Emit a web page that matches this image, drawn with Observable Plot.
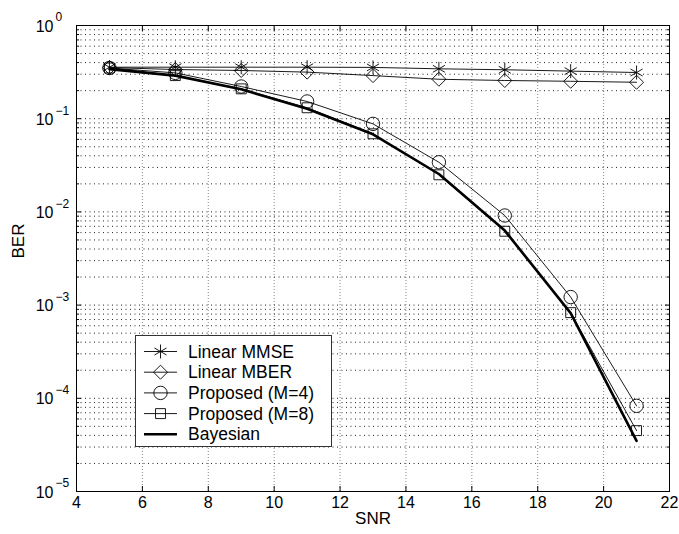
<!DOCTYPE html>
<html>
<head>
<meta charset="utf-8">
<script src="https://cdn.jsdelivr.net/npm/d3@7"></script>
<script src="https://cdn.jsdelivr.net/npm/@observablehq/plot@0.6"></script>
<style>
  body { margin: 0; background: #fff; font-family: "Liberation Sans", Arial, sans-serif; }
  #chart { position: relative; width: 679px; height: 534px; }
</style>
</head>
<body>
<div id="chart"></div>
<script>
const snr = [5, 7, 9, 11, 13, 15, 17, 19, 21];
const linearMMSE = [0.357, 0.357, 0.357, 0.357, 0.355, 0.343, 0.335, 0.324, 0.313];
const linearMBER = [0.354, 0.337, 0.329, 0.316, 0.29, 0.265, 0.257, 0.252, 0.246];
const proposedM4 = [0.35, 0.31, 0.2215, 0.153, 0.088, 0.0341, 0.00915, 0.00122, 0.000083];
const proposedM8 = [0.35, 0.29, 0.209, 0.131, 0.0689, 0.025, 0.0062, 0.00083, 0.000045];
const bayesian = [0.34, 0.29, 0.207, 0.128, 0.068, 0.0255, 0.0063, 0.00082, 0.000035];

const xTicks = [4, 6, 8, 10, 12, 14, 16, 18, 20, 22];
const yExponents = [0, -1, -2, -3, -4, -5];
const seriesNames = ["Linear MMSE", "Linear MBER", "Proposed (M=4)", "Proposed (M=8)", "Bayesian"];
const seriesValues = [linearMMSE, linearMBER, proposedM4, proposedM8, bayesian];
const seriesSymbols = ["asterisk", "diamond2", "circle", "square", null];
const seriesR = [6.6, 6.3, 6.7, 5.6, 0];
const seriesWidth = [0.9, 0.9, 0.9, 0.9, 2.6];

const yMajor = yExponents.map(e => 10 ** e);
const yMinor = [];
for (let e = -5; e < 0; e++) for (let k = 2; k <= 9; k++) yMinor.push(k * 10 ** e);

const rows = seriesNames.map((name, s) => snr.map((x, i) => ({snr: x, ber: seriesValues[s][i], series: name})));

const marks = [
  Plot.gridX(xTicks.slice(1, -1), {stroke: "#888", strokeOpacity: 1, strokeDasharray: "1,2", strokeWidth: 1}),
  Plot.gridY(yMinor.concat(yMajor.slice(1, -1)), {stroke: "#222", strokeOpacity: 1, strokeDasharray: "1,3.5", strokeWidth: 1}),
  Plot.frame({stroke: "#000", strokeWidth: 1}),
  Plot.axisX(xTicks, {anchor: "bottom", tickSize: -5, tickFormat: () => "", label: null}),
  Plot.axisX(xTicks, {anchor: "top", tickSize: -5, tickFormat: () => "", label: null}),
  Plot.axisY(yMajor, {anchor: "left", tickSize: -5, tickFormat: () => "", label: null}),
  Plot.axisY(yMinor, {anchor: "left", tickSize: -3, tickFormat: () => "", label: null}),
  Plot.axisY(yMajor, {anchor: "right", tickSize: -5, tickFormat: () => "", label: null}),
  Plot.axisY(yMinor, {anchor: "right", tickSize: -3, tickFormat: () => "", label: null}),
  Plot.text(xTicks, {x: d => d, frameAnchor: "bottom", dy: 16, fontSize: 16, text: d => String(d)}),
  Plot.text(yExponents, {y: e => 10 ** e, frameAnchor: "left", text: () => "10", textAnchor: "end", dx: -23, dy: 1, fontSize: 16}),
  Plot.text(yExponents, {y: e => 10 ** e, frameAnchor: "left", text: e => e === 0 ? "0" : "\u2212" + (-e), textAnchor: "start", dx: -21, dy: -8, fontSize: 12}),
  Plot.text(["SNR"], {frameAnchor: "bottom", dy: 32, fontSize: 17, text: d => d}),
  Plot.text(["BER"], {frameAnchor: "left", dx: -58, rotate: -90, fontSize: 17, text: d => d})
];

rows.forEach((data, s) => {
  marks.push(Plot.line(data, {x: "snr", y: "ber", stroke: "#000", strokeWidth: seriesWidth[s]}));
  if (seriesSymbols[s]) {
    marks.push(Plot.dot(data, {x: "snr", y: "ber", symbol: seriesSymbols[s], r: seriesR[s], stroke: "#000", fill: "none", strokeWidth: 0.9}));
  }
});

const chart = Plot.plot({
  width: 679,
  height: 534,
  marginLeft: 76,
  marginRight: 10,
  marginTop: 25,
  marginBottom: 43,
  style: {fontFamily: "'Liberation Sans', Arial, sans-serif", background: "white", color: "#000"},
  x: {domain: [4, 22], axis: null},
  y: {type: "log", domain: [1e-5, 1], axis: null},
  marks
});
document.getElementById("chart").appendChild(chart);

// Legend box (overlay)
const symMap = {asterisk: d3.symbolAsterisk, diamond2: d3.symbolDiamond2, circle: d3.symbolCircle, square: d3.symbolSquare};
const lg = d3.select("#chart").append("svg")
  .style("position", "absolute").style("left", "135px").style("top", "335px")
  .attr("width", 197).attr("height", 112);
lg.append("rect").attr("x", 0.5).attr("y", 0.5).attr("width", 196).attr("height", 111)
  .attr("fill", "#fff").attr("stroke", "#333");
seriesNames.forEach((name, s) => {
  const cy = 16.5 + s * 20.7;
  lg.append("line").attr("x1", 9).attr("x2", 42).attr("y1", cy).attr("y2", cy)
    .attr("stroke", "#000").attr("stroke-width", seriesWidth[s]);
  if (seriesSymbols[s]) {
    lg.append("path")
      .attr("d", d3.symbol(symMap[seriesSymbols[s]], seriesR[s] * seriesR[s] * Math.PI)())
      .attr("transform", `translate(25.5,${cy})`)
      .attr("fill", "none").attr("stroke", "#000").attr("stroke-width", 0.9);
  }
  lg.append("text").attr("x", 53).attr("y", cy).attr("dy", "0.35em")
    .attr("font-size", 17.5).attr("font-family", "'Liberation Sans', Arial, sans-serif")
    .text(name);
});
</script>
</body>
</html>
